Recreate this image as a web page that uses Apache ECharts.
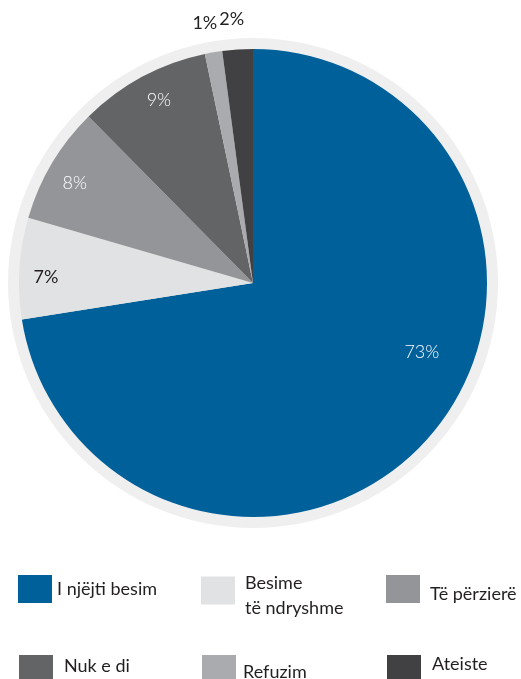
<!DOCTYPE html>
<html>
<head>
<meta charset="utf-8">
<script src="https://cdn.jsdelivr.net/npm/echarts@6/dist/echarts.min.js"></script>
<style>
html,body{margin:0;padding:0;background:#fff;}
#chart{width:521px;height:679px;}
</style>
</head>
<body>
<div id="chart"></div>
<script>
// Data
var categories = ["I njëjti besim", "Besime\ntë ndryshme", "Të përzierë", "Nuk e di", "Refuzim", "Ateiste"];
var values = [72.5, 7.0, 8.1, 9.1, 1.2, 2.1];
var colors = ["#00609a", "#e1e2e4", "#939598", "#636466", "#a9abae", "#414042"];
var labelColors = ["#ffffff", "#231f20", "#ffffff", "#ffffff", "#231f20", "#231f20"];
var labelWeights = [300, 400, 300, 300, 400, 400];

// Label placement (angle clockwise from top in degrees, radius fraction)
var labelPolar = [[112.3, 0.78], [271.7, 0.885], [299.3, 0.873], [332.7, 0.877], [349.5, 1.13], [355.4, 1.13]];

var CX = 253, CY = 283, R = 234;
var FONT = "Lato, 'Noto Sans', sans-serif";

// Legend placement: icon box top-left, text shifts
var legendPos = [
  {left: 13, top: 570, dx: 0, dy: 0},
  {left: 196, top: 559, dx: 5, dy: 5},
  {left: 381, top: 570, dx: 5, dy: 5},
  {left: 14, top: 650, dx: 6, dy: -3},
  {left: 197, top: 650, dx: 2, dy: 3},
  {left: 382, top: 650, dx: 6, dy: -5}
];

var data = categories.map(function (c, i) {
  return {name: c, value: values[i], itemStyle: {color: colors[i]}, label: {color: labelColors[i], fontWeight: labelWeights[i]}};
});

var legends = categories.map(function (c, i) {
  var lp = legendPos[i];
  var pt = Math.max(0, 2 * lp.dy), pb = Math.max(0, -2 * lp.dy);
  return {
    data: [c],
    left: lp.left,
    top: lp.top,
    orient: 'vertical',
    icon: 'rect',
    itemWidth: 34,
    itemHeight: 28,
    selectedMode: false,
    formatter: function (name) {
      return name.split('\n').map(function (s) { return '{t|' + s + '}'; }).join('\n');
    },
    textStyle: {
      padding: [0, 0, 0, lp.dx],
      rich: {
        t: {fontSize: 18, color: '#231f20', fontFamily: FONT, lineHeight: 25, padding: [pt, 0, pb, 0]}
      }
    }
  };
});

var chart = echarts.init(document.getElementById('chart'));
chart.setOption({
  animation: false,
  backgroundColor: '#ffffff',
  legend: legends,
  series: [
    {
      type: 'pie',
      silent: true,
      center: [CX, CY],
      radius: [0, 245],
      label: {show: false},
      labelLine: {show: false},
      data: [{value: 1, name: '_ring', itemStyle: {color: '#efefef'}}],
      z: 1
    },
    {
      type: 'pie',
      center: [CX, CY],
      radius: [0, R],
      startAngle: 90,
      clockwise: true,
      avoidLabelOverlap: false,
      silent: true,
      label: {
        show: true,
        position: 'inside',
        fontSize: 18,
        fontFamily: FONT,
        formatter: function (p) { return Math.round(p.value) + '%'; }
      },
      labelLine: {show: false},
      labelLayout: function (p) {
        var lp = labelPolar[p.dataIndex];
        var a = lp[0] * Math.PI / 180;
        return {
          x: CX + Math.sin(a) * R * lp[1],
          y: CY - Math.cos(a) * R * lp[1],
          align: 'center',
          verticalAlign: 'middle'
        };
      },
      data: data,
      z: 2
    }
  ]
});
</script>
</body>
</html>
